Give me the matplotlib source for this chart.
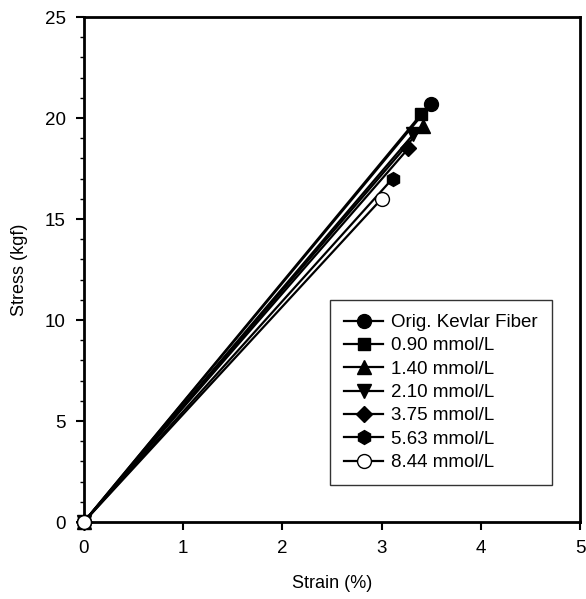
import matplotlib
matplotlib.use("Agg")
import matplotlib.pyplot as plt
from matplotlib.ticker import MultipleLocator

plt.rcParams["font.family"] = ["Liberation Sans", "DejaVu Sans"]

_labels = ["Orig. Kevlar Fiber", "0.90 mmol/L", "1.40 mmol/L", "2.10 mmol/L",
           "3.75 mmol/L", "5.63 mmol/L", "8.44 mmol/L"]
_strainEnd = [3.50, 3.40, 3.42, 3.32, 3.27, 3.11, 3.00]
_stressEnd = [20.7, 20.2, 19.6, 19.2, 18.5, 17.0, 16.0]
_markers = ["o", "s", "^", "v", "D", "h", "o"]
_faces = ["black", "black", "black", "black", "black", "black", "white"]
_sizes = [10, 9, 9.5, 9.5, 8.5, 10, 10]

_fig = plt.figure(figsize=(5.86, 5.99), dpi=100)
_ax = _fig.add_axes([0.143, 0.1285, 0.847, 0.843])

for _i in range(len(_labels)):
	_ax.plot([0, _strainEnd[_i]], [0, _stressEnd[_i]], color="black", lw=1.6,
		marker=_markers[_i], markersize=_sizes[_i], markerfacecolor=_faces[_i],
		markeredgecolor="black", markeredgewidth=1.0, label=_labels[_i],
		zorder=3 + _i, clip_on=False)

_ax.set_xlim(0, 5)
_ax.set_ylim(0, 25)
_ax.xaxis.set_major_locator(MultipleLocator(1))
_ax.yaxis.set_major_locator(MultipleLocator(5))
_ax.yaxis.set_minor_locator(MultipleLocator(1))
_ax.tick_params(axis="both", which="major", direction="out", length=6, width=1.5,
	labelsize=13.5, pad=7)
_ax.tick_params(axis="y", which="minor", direction="out", length=3, width=1)
for _s in _ax.spines.values():
	_s.set_linewidth(2)

_ax.set_xlabel("Strain (%)", fontsize=13, labelpad=13)
_ax.set_ylabel("Stress (kgf)", fontsize=13, labelpad=12)

_leg = _ax.legend(loc="upper left", bbox_to_anchor=(330 / 586, 1 - 300 / 599),
	bbox_transform=_fig.transFigure, fontsize=13.5, frameon=True, fancybox=False,
	edgecolor="black", handlelength=2.1, handletextpad=0.4, labelspacing=0.33,
	borderpad=0.75, borderaxespad=0)
_leg.get_frame().set_linewidth(1.0)

plt.savefig("out.png", dpi=100)
